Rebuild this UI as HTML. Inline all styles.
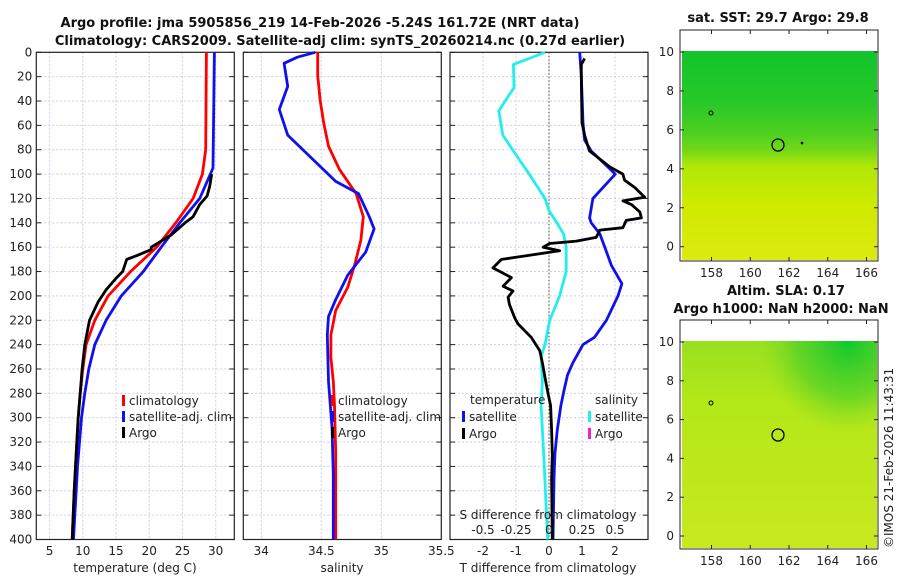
<!DOCTYPE html>
<html><head><meta charset="utf-8"><style>
body{margin:0;background:#fff;}
svg{display:block;font-family:"DejaVu Sans","Liberation Sans",sans-serif;}
.t{font-size:12px;fill:#222;}
.b{font-size:13px;font-weight:bold;fill:#111;}
.g{stroke:#c9d0e6;stroke-width:1;stroke-dasharray:2,2;}
</style></head><body>
<svg id="c" width="900" height="580" viewBox="0 0 900 580">
<defs>
<linearGradient id="sst" x1="0" y1="0" x2="0" y2="1">
<stop offset="0" stop-color="#12c42c"/><stop offset="0.25" stop-color="#28c828"/><stop offset="0.4" stop-color="#50d020"/><stop offset="0.47" stop-color="#70d818"/><stop offset="0.55" stop-color="#b0e808"/><stop offset="0.75" stop-color="#d0ea00"/><stop offset="1" stop-color="#dcea10"/>
</linearGradient>
<linearGradient id="sla" x1="0" y1="0" x2="0" y2="1">
<stop offset="0" stop-color="#98e020"/><stop offset="0.3" stop-color="#b4e818"/><stop offset="1" stop-color="#c8e820"/>
</linearGradient>
<radialGradient id="slaTR" cx="0.85" cy="0" r="0.45">
<stop offset="0" stop-color="#10c830"/><stop offset="0.6" stop-color="#50d028" stop-opacity="0.7"/><stop offset="1" stop-color="#80d820" stop-opacity="0"/>
</radialGradient>
</defs>
<text class="b" x="320" y="27" text-anchor="middle">Argo profile: jma 5905856_219 14-Feb-2026 -5.24S 161.72E (NRT data)</text>
<text class="b" x="340" y="45" text-anchor="middle">Climatology: CARS2009. Satellite-adj clim: synTS_20260214.nc (0.27d earlier)</text>
<g id="p1"></g>
<g id="p2"></g>
<g id="p3"></g>
<g id="maps">
<text class="b" x="778" y="22" text-anchor="middle">sat. SST: 29.7 Argo: 29.8</text>
<rect x="680" y="30" width="198" height="231" fill="#fff" stroke="#222"/>
<rect x="682" y="51" width="195" height="209" fill="url(#sst)"/>
<circle cx="778" cy="145" r="6" fill="none" stroke="#000" stroke-width="1.3"/>
<circle cx="711" cy="113" r="2" fill="none" stroke="#000"/>
<circle cx="802" cy="143" r="1.3" fill="#000"/>
<text class="b" x="727" y="295">Altim. SLA: 0.17</text>
<text class="b" x="781" y="313" text-anchor="middle">Argo h1000: NaN h2000: NaN</text>
<rect x="680" y="320" width="198" height="229" fill="#fff" stroke="#222"/>
<rect x="682" y="341" width="195" height="207" fill="url(#sla)"/>
<rect x="682" y="341" width="195" height="207" fill="url(#slaTR)"/>
<circle cx="778" cy="435" r="6" fill="none" stroke="#000" stroke-width="1.3"/>
<circle cx="711" cy="403" r="2" fill="none" stroke="#000"/>
<text class="t" x="0" y="0" transform="translate(893,548) rotate(-90)">©IMOS 21-Feb-2026 11:43:31</text>
</g>
</svg>
<script>
// ---- data ----
var tDepthRed=[0,80,100,120,140,160,180,200,220,240,260,280,300,320,340,360,380,400];
var tRed=[28.6,28.5,28.0,26.6,24.0,21.1,17.2,13.8,11.8,10.5,10.0,9.6,9.3,9.1,8.9,8.7,8.55,8.4];
var tDepthBlue=[0,95,100,120,140,160,180,200,220,240,260,280,300,320,340,360,380,400];
var tBlue=[29.8,29.6,29.2,27.6,24.6,21.8,19.1,15.8,13.5,11.8,10.9,10.3,9.8,9.5,9.2,9.0,8.8,8.6];
var tDepthArgo=[100,110,118,125,135,140,150,155,160,162,167,170,180,185,195,205,220,240,260,280,300,340,360,400];
var tArgo=[29.4,29.1,28.7,27.6,26.6,25.4,23.3,21.8,20.3,20.3,18.1,16.6,16.0,15.1,13.5,12.3,11.0,10.3,9.9,9.6,9.3,8.9,8.7,8.4];
var sDepthRed=[0,19,39,58,77,96,116,135,154,174,193,212,232,251,270,290,328,400];
var sRed=[34.47,34.47,34.49,34.52,34.56,34.65,34.79,34.85,34.83,34.78,34.72,34.62,34.58,34.58,34.6,34.61,34.62,34.62];
var sDepthBlue=[0,4,9,28,47,68,87,106,116,135,145,164,183,203,217,232,270,309,347,400];
var sBlue=[34.45,34.30,34.19,34.22,34.15,34.22,34.42,34.62,34.81,34.9,34.94,34.87,34.72,34.62,34.56,34.55,34.56,34.59,34.6,34.6];
var dDepthS=[0,10,29,48,68,81,100,120,130,140,149,160,180,200,220,240,250,270,290,330,400];
var dSsat=[-0.03,-0.27,-0.265,-0.38,-0.35,-0.27,-0.15,-0.03,0,0.06,0.11,0.13,0.13,0.08,0.005,-0.03,-0.06,-0.05,-0.06,-0.04,-0.01];
var dDepthTsat=[0,19,58,72,81,100,108,120,136,140,149,160,175,190,200,220,234,240,255,265,278,290,310,330,350,400];
var dTsat=[0.93,0.98,1.03,1.08,1.28,2.01,1.74,1.33,1.23,1.28,1.54,1.69,1.89,2.21,2.09,1.74,1.38,1.03,0.72,0.56,0.45,0.36,0.25,0.18,0.15,0.12];
var dDepthTargo=[5,10,20,58,68,77,81,94,100,105,111,119,122,125,131,136,138,144,146,152,155,157,160,163,167,170,177,185,192,196,201,207,218,223,234,245,255,270,280,290,310,330,350,400];
var dTargo=[1.08,0.98,0.98,1.0,1.08,1.18,1.23,1.84,2.24,2.29,2.6,2.9,2.24,2.5,2.75,2.8,2.34,2.24,1.54,1.43,0.83,0.02,-0.18,0.32,-0.69,-1.44,-1.7,-1.14,-1.39,-1.09,-1.24,-1.2,-1.04,-0.94,-0.54,-0.28,-0.2,-0.1,-0.03,0.05,0.08,0.1,0.08,0.1];
var tTicks=[5,10,15,20,25,30];
var sTicks=[34,34.5,35,35.5];
var dTTicks=[-2,-1,0,1,2];
var dSTicks=[-0.5,-0.25,0,0.25,0.5];
var depthTicks=[0,20,40,60,80,100,120,140,160,180,200,220,240,260,280,300,320,340,360,380,400];
var latTicks=[0,2,4,6,8,10];
var lonTicks=[158,160,162,164,166];
// ---- axes ----
var NS='http://www.w3.org/2000/svg';
var TOP=52.3,BOT=539.5;
function yD(d){return TOP+d*(BOT-TOP)/400;}
function lin(a,b,x0,x1){return function(v){return x0+(v-a)*(x1-x0)/(b-a);};}
var xT=lin(3,32.8,36.3,234.3), xS=lin(33.85,35.5,243.3,441.3), xDT=lin(-3,3,450,648), xDS=lin(-0.75,0.75,450,648);
function el(tag,attrs,parent,txt){var e=document.createElementNS(NS,tag);for(var k in attrs)e.setAttribute(k,attrs[k]);if(txt!=null)e.textContent=txt;parent.appendChild(e);return e;}
function panel(g,L,R,ticks,xf,fmt,showY){
  ticks.forEach(function(v){var x=xf(v);
    var l=el('line',{x1:x,x2:x,y1:TOP,y2:BOT,'class':'g'},g);
    
    
    var t=el('text',{x:x,y:555,'class':'t','text-anchor':'middle'},g,fmt(v));
    
    
  });
  depthTicks.forEach(function(d){var y=yD(d);
    var l=el('line',{x1:L,x2:R,y1:y,y2:y,'class':'g'},g);
    
    
    el('line',{x1:L,x2:L+5,y1:y,y2:y,stroke:'#222'},g);
    el('line',{x1:R-5,x2:R,y1:y,y2:y,stroke:'#222'},g);
    if(showY){var t=el('text',{x:L-4,y:y+4,'class':'t','text-anchor':'end'},g,String(d));
      
      }
  });
  var r=el('rect',{x:L,y:TOP,width:R-L,height:BOT-TOP,fill:'none',stroke:'#222','stroke-width':1.2},g);
  
  
}
function line(g,ds,vs,xf,col,name,w){
  var p=ds.map(function(d,i){return xf(vs[i]).toFixed(1)+','+yD(d).toFixed(1);}).join(' ');
  var e=el('polyline',{points:p,fill:'none',stroke:col,'stroke-width':w||2.8,'stroke-linejoin':'round'},g);
  
  
}
function leg(g,x,y,col,txt,name){
  var r=el('rect',{x:x,y:y-10,width:3,height:11,fill:col},g);
  
  
  var t=el('text',{x:x+7,y:y,'class':'t'},g,txt);
  
  
}
var p1=document.getElementById('p1'),p2=document.getElementById('p2'),p3=document.getElementById('p3');
panel(p1,36.3,234.3,tTicks,xT,String,true);
line(p1,tDepthRed,tRed,xT,'#ff0000','temp-climatology-line');
line(p1,tDepthBlue,tBlue,xT,'#1010ee','temp-satellite-line');
line(p1,tDepthArgo,tArgo,xT,'#000','temp-argo-line');
var tl=el('text',{x:135,y:572,'class':'t','text-anchor':'middle'},p1,'temperature (deg C)');


leg(p1,122,405,'#ff0000','climatology','legend-climatology');
leg(p1,122,421,'#1010ee','satellite-adj. clim','legend-satellite');
leg(p1,122,437,'#000','Argo','legend-argo');

panel(p2,243.3,441.3,sTicks,xS,String,false);
line(p2,sDepthRed,sRed,xS,'#ff0000','sal-climatology-line');
line(p2,sDepthBlue,sBlue,xS,'#1010ee','sal-satellite-line');
var sl=el('text',{x:342,y:572,'class':'t','text-anchor':'middle'},p2,'salinity');


leg(p2,331,405,'#ff0000','climatology','legend-sal-climatology');
leg(p2,331,421,'#1010ee','satellite-adj. clim','legend-sal-satellite');
leg(p2,331,437,'#000','Argo','legend-sal-argo');

panel(p3,450,648,dTTicks,xDT,String,false);
var zl=el('line',{x1:xDT(0),x2:xDT(0),y1:TOP,y2:BOT,stroke:'#554422','stroke-dasharray':'1.5,2','stroke-width':1},p3);


line(p3,dDepthS,dSsat,xDS,'#22eeee','sal-diff-satellite-line');
line(p3,dDepthTsat,dTsat,xDT,'#1010ee','temp-diff-satellite-line');
line(p3,dDepthTargo,dTargo,xDT,'#000','temp-diff-argo-line');
var tt=el('text',{x:548,y:572,'class':'t','text-anchor':'middle'},p3,'T difference from climatology');


var st=el('text',{x:548,y:519,'class':'t','text-anchor':'middle'},p3,'S difference from climatology');


dSTicks.forEach(function(v){
  var t=el('text',{x:xDS(v),y:534,'class':'t','text-anchor':'middle'},p3,String(v));
  
  
});
var h1=el('text',{x:470,y:404,'class':'t'},p3,'temperature');


var h2=el('text',{x:595,y:404,'class':'t'},p3,'salinity');


leg(p3,462,421,'#1010ee','satellite','legend-t-satellite');
leg(p3,462,438,'#000','Argo','legend-t-argo');
leg(p3,588,421,'#22eeee','satellite','legend-s-satellite');
leg(p3,588,438,'#ee22cc','Argo','legend-s-argo');

// map axes
var maps=document.getElementById('maps');
function mapAxes(top,bot,lat10,lat0){
  var yl=lin(0,10,lat0,lat10), xl=lin(158,166,711.5,866.5);
  latTicks.forEach(function(v){var y=yl(v);
    el('line',{x1:680,x2:684,y1:y,y2:y,stroke:'#222'},maps);
    el('line',{x1:874,x2:878,y1:y,y2:y,stroke:'#222'},maps);
    var t=el('text',{x:674,y:y+4,'class':'t','text-anchor':'end'},maps,String(v));
    
    
  });
  lonTicks.forEach(function(v){var x=xl(v);
    el('line',{x1:x,x2:x,y1:bot-4,y2:bot,stroke:'#222'},maps);
    el('line',{x1:x,x2:x,y1:top,y2:top+4,stroke:'#222'},maps);
    var t=el('text',{x:x,y:bot+16,'class':'t','text-anchor':'middle'},maps,String(v));
    
    
  });
}
mapAxes(30,261,52,246.7);
mapAxes(320,549,342,536);
</script>
</body></html>
